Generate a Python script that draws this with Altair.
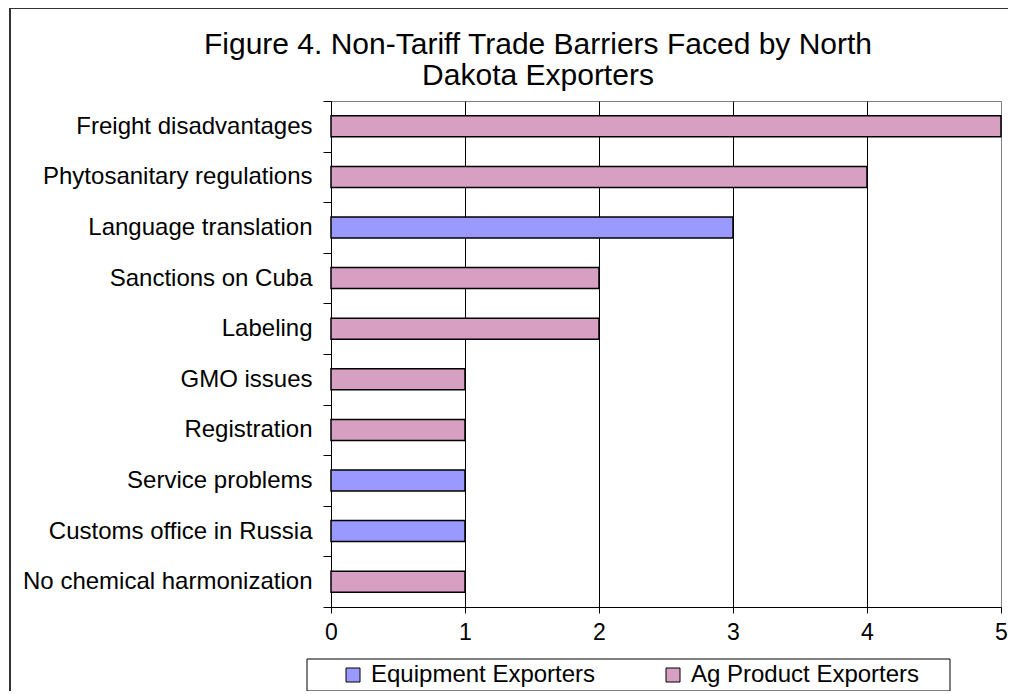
import altair as alt
import pandas as pd

# ---- data ----
categories = [
    "Freight disadvantages",
    "Phytosanitary regulations",
    "Language translation",
    "Sanctions on Cuba",
    "Labeling",
    "GMO issues",
    "Registration",
    "Service problems",
    "Customs office in Russia",
    "No chemical harmonization",
]
values = [5, 4, 3, 2, 2, 1, 1, 1, 1, 1]
groups = [
    "Ag Product Exporters",
    "Ag Product Exporters",
    "Equipment Exporters",
    "Ag Product Exporters",
    "Ag Product Exporters",
    "Ag Product Exporters",
    "Ag Product Exporters",
    "Equipment Exporters",
    "Equipment Exporters",
    "Ag Product Exporters",
]
series = ["Equipment Exporters", "Ag Product Exporters"]
series_colors = ["#9999FF", "#D79FC1"]
x_ticks = [0, 1, 2, 3, 4, 5]
title_lines = ["Figure 4. Non-Tariff Trade Barriers Faced by North", "Dakota Exporters"]

FONT = "Liberation Sans"

df = pd.DataFrame({"barrier": categories, "count": values, "exporter": groups})

bars = alt.Chart(df).mark_bar(
    stroke="black", strokeWidth=1.5, height=alt.RelativeBandSize(0.415)
).encode(
    y=alt.Y(
        "barrier:N",
        sort=categories,
        scale=alt.Scale(paddingInner=0, paddingOuter=0),
        axis=alt.Axis(
            title=None, tickBand="extent", tickSize=8, tickColor="black",
            domainColor="black", labelFontSize=24, labelFont=FONT,
            labelColor="black", labelPadding=11, grid=False, labelLimit=400,
        ),
    ),
    x=alt.X(
        "count:Q",
        scale=alt.Scale(domain=[0, 5], nice=False),
        axis=alt.Axis(
            title=None, values=x_ticks, tickSize=6, tickColor="black",
            domainColor="black", grid=True,
            gridColor=alt.condition("datum.value == 5", alt.value("#808080"), alt.value("black")),
            labelFontSize=23, labelFont=FONT, labelColor="black",
            labelPadding=8, labelFlush=False, format="d",
        ),
    ),
    color=alt.Color(
        "exporter:N",
        scale=alt.Scale(domain=series, range=series_colors),
        legend=alt.Legend(
            title=None, orient="none", legendX=6, legendY=558,
            direction="horizontal", symbolType="square", symbolSize=196,
            symbolStrokeColor="black", symbolStrokeWidth=1, symbolOpacity=1,
            labelFontSize=24, labelFont=FONT, labelColor="black",
            labelOffset=6, labelLimit=400, columnPadding=65, padding=4,
        ),
    ),
)

# outer chart frame
border = alt.Chart(alt.Data(values=[{"k": 1}])).mark_rect(
    fillOpacity=0, stroke="#333333", strokeWidth=2
).encode(
    x=alt.value(-321), x2=alt.value(720), y=alt.value(-93), y2=alt.value(640)
)

# frame around the legend
legend_box = alt.Chart(alt.Data(values=[{"k": 1}])).mark_rect(
    fill="white", stroke="black", strokeWidth=1
).encode(
    x=alt.value(-24), x2=alt.value(619), y=alt.value(558), y2=alt.value(590)
)

chart = alt.layer(border, legend_box, bars).properties(
    width=670,
    height=506,
    title=alt.TitleParams(
        text=title_lines, anchor="middle", dx=-128, dy=93, fontSize=30,
        font=FONT, fontWeight="normal", color="black", lineHeight=31, offset=9,
    ),
    padding={"left": 323, "top": 93, "right": 7, "bottom": 84},
    autosize=alt.AutoSizeParams(type="none"),
).configure_view(stroke="#808080", strokeWidth=1)

chart.save("out.html", embed_options={"renderer": "svg", "actions": False})
